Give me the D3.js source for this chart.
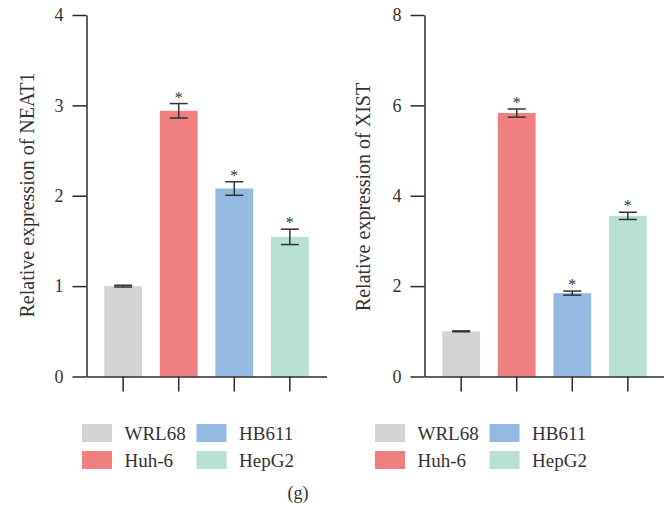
<!DOCTYPE html>
<html>
<head>
<meta charset="utf-8">
<script src="https://cdn.jsdelivr.net/npm/d3@7"></script>
<style>
  body { margin: 0; background: #fff; }
  text { font-family: "Liberation Serif", "Times New Roman", serif; fill: #333; }
</style>
</head>
<body>
<div id="container"></div>
<script>
// data
const cellLines = ["WRL68", "Huh-6", "HB611", "HepG2"];
const colors = ["#d3d3d3", "#f07f81", "#95bae2", "#b8e0d4"];
const neat1Values = [1.0, 2.94, 2.08, 1.545];
const neat1Errors = [0.01, 0.08, 0.075, 0.085];
const xistValues = [1.0, 5.83, 1.845, 3.555];
const xistErrors = [0.01, 0.09, 0.045, 0.08];
const neat1Ticks = [0, 1, 2, 3, 4];
const xistTicks = [0, 2, 4, 6, 8];

const width = 664, height = 509;
const svg = d3.select("#container").append("svg")
  .attr("width", width).attr("height", height);

const panels = [
  { x0: 86.5, label: "Relative expression of NEAT1", labelX: 27, labelY: 195, max: 4, ticks: neat1Ticks, values: neat1Values, errors: neat1Errors, legendX: 82 },
  { x0: 424.5, label: "Relative expression of XIST", labelX: 363, labelY: 197, max: 8, ticks: xistTicks, values: xistValues, errors: xistErrors, legendX: 375 }
];

const yTop = 15, yBottom = 376.5;

panels.forEach(p => {
  const g = svg.append("g");
  const x = d3.scaleBand().domain(cellLines)
    .range([p.x0, p.x0 + 240]).paddingInner(0.32).paddingOuter(0.32);
  const y = d3.scaleLinear().domain([0, p.max]).range([yBottom, yTop]);

  // bars
  g.selectAll("rect.bar")
    .data(cellLines)
    .join("rect")
    .attr("class", "bar")
    .attr("x", d => x(d))
    .attr("width", x.bandwidth())
    .attr("y", (d, i) => y(p.values[i]))
    .attr("height", (d, i) => y(0) - y(p.values[i]))
    .attr("fill", (d, i) => colors[i]);

  // error bars
  const eb = g.selectAll("g.err")
    .data(cellLines)
    .join("g")
    .attr("class", "err")
    .attr("stroke", "#333")
    .attr("stroke-width", 1.5);
  const cx = d => x(d) + x.bandwidth() / 2;
  eb.append("line")
    .attr("x1", cx).attr("x2", cx)
    .attr("y1", (d, i) => y(p.values[i] + p.errors[i]))
    .attr("y2", (d, i) => y(p.values[i] - p.errors[i]));
  eb.append("line")
    .attr("x1", d => cx(d) - 9).attr("x2", d => cx(d) + 9)
    .attr("y1", (d, i) => y(p.values[i] + p.errors[i]))
    .attr("y2", (d, i) => y(p.values[i] + p.errors[i]));
  eb.append("line")
    .attr("x1", d => cx(d) - 9).attr("x2", d => cx(d) + 9)
    .attr("y1", (d, i) => y(p.values[i] - p.errors[i]))
    .attr("y2", (d, i) => y(p.values[i] - p.errors[i]));

  // significance stars (all but control)
  g.selectAll("text.star")
    .data(cellLines.slice(1))
    .join("text")
    .attr("class", "star")
    .attr("x", cx)
    .attr("y", (d, i) => y(p.values[i + 1] + p.errors[i + 1]) - 1)
    .attr("text-anchor", "middle")
    .attr("font-size", 16)
    .text("*");

  // y axis
  const yAxis = g.append("g")
    .attr("transform", `translate(${p.x0},0)`)
    .call(d3.axisLeft(y).tickValues(p.ticks).tickFormat(d3.format("d"))
      .tickSize(14).tickPadding(9).tickSizeOuter(0))
    .attr("font-family", "Liberation Serif, serif")
    .attr("font-size", 18);

  // x axis
  const xAxis = g.append("g")
    .attr("transform", `translate(0,${yBottom})`)
    .call(d3.axisBottom(x).tickSize(15).tickSizeOuter(0).tickFormat(""));

  [yAxis, xAxis].forEach(a => {
    a.selectAll("path, line").attr("stroke", "#2b2b2b").attr("stroke-width", 1.5);
  });

  // y label
  g.append("text")
    .attr("transform", `translate(${p.labelX},${p.labelY}) rotate(-90)`)
    .attr("text-anchor", "middle")
    .attr("dy", "0.35em")
    .attr("font-size", 20)
    .text(p.label);

  // legend: col1 WRL68, Huh-6 ; col2 HB611, HepG2
  const leg = g.selectAll("g.leg")
    .data(cellLines)
    .join("g")
    .attr("class", "leg")
    .attr("transform", (d, i) => `translate(${p.legendX + Math.floor(i / 2) * 114.5},${424 + (i % 2) * 27})`);
  leg.append("rect")
    .attr("width", 30).attr("height", 18)
    .attr("fill", (d, i) => colors[i]);
  leg.append("text")
    .attr("x", 42.5).attr("y", 15.5)
    .attr("font-size", 19)
    .text(d => d);
});

svg.append("text")
  .attr("x", 298).attr("y", 499)
  .attr("text-anchor", "middle")
  .attr("font-size", 18)
  .text("(g)");
</script>
</body>
</html>
